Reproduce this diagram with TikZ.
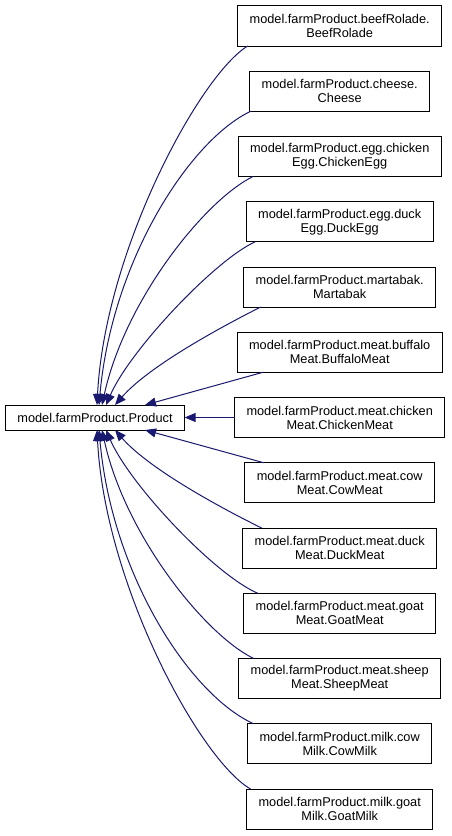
\documentclass[tikz,border=0pt]{standalone}
\usepackage{fontspec}
\setmainfont{Liberation Sans}
\usepackage{xcolor}
\usepackage{tikz}
\usetikzlibrary{arrows.meta}
\definecolor{bg}{HTML}{FFFFFF}
\definecolor{boxline}{HTML}{000000}
\definecolor{inhblue}{HTML}{191970}
\tikzset{
  cls/.style={draw=boxline, fill=bg, line width=1bp, align=center, minimum height=40bp,
    inner xsep=12bp, inner ysep=2bp, outer sep=0pt, font=\fontsize{12.8}{14}\selectfont},
  base/.style={cls, minimum height=25bp},
  inh/.style={draw=inhblue, line width=1bp, -{Triangle[length=11bp,width=9bp]}}
}
\begin{document}
\begin{tikzpicture}[x=1bp,y=-1bp]
  \useasboundingbox[fill=bg] (0,0) rectangle (452,836);
  % base class
  \node[base] (prod) at (95,417.5) {model.farmProduct.Product};
  % derived classes
  \node[cls] (beef)     at (339.7,26)     {model.farmProduct.beefRolade.\\BeefRolade};
  \node[cls] (cheese)   at (339.7,91.25)  {model.farmProduct.cheese.\\Cheese};
  \node[cls] (chkegg)   at (339.7,156.5)  {model.farmProduct.egg.chicken\\Egg.ChickenEgg};
  \node[cls] (dckegg)   at (339.7,221.75) {model.farmProduct.egg.duck\\Egg.DuckEgg};
  \node[cls] (martabak) at (339.7,287)    {model.farmProduct.martabak.\\Martabak};
  \node[cls] (bufmeat)  at (339.7,352.25) {model.farmProduct.meat.buffalo\\Meat.BuffaloMeat};
  \node[cls] (chkmeat)  at (339.7,417.5)  {model.farmProduct.meat.chicken\\Meat.ChickenMeat};
  \node[cls] (cowmeat)  at (339.7,482.75) {model.farmProduct.meat.cow\\Meat.CowMeat};
  \node[cls] (dckmeat)  at (339.7,548)    {model.farmProduct.meat.duck\\Meat.DuckMeat};
  \node[cls] (goatmeat) at (339.7,613.25) {model.farmProduct.meat.goat\\Meat.GoatMeat};
  \node[cls] (shpmeat)  at (339.7,678.5)  {model.farmProduct.meat.sheep\\Meat.SheepMeat};
  \node[cls] (cowmilk)  at (339.7,743.75) {model.farmProduct.milk.cow\\Milk.CowMilk};
  \node[cls] (goatmilk) at (339.7,809)    {model.farmProduct.milk.goat\\Milk.GoatMilk};
  % inheritance edges, upper half
  \draw[inh] ([xshift=10bp]beef.south west) .. controls (200,75) and (105,250) .. ([xshift=2bp]prod.north);
  \draw[inh] ([xshift=1bp]cheese.south west) .. controls (190,140) and (112,260) .. ([xshift=4bp]prod.north);
  \draw[inh] ([xshift=15bp]chkegg.south west) .. controls (205,200) and (125,300) .. ([xshift=7bp]prod.north);
  \draw[inh] ([xshift=9bp]dckegg.south west) .. controls (215,260) and (130,350) .. ([xshift=11bp]prod.north);
  \draw[inh] ([xshift=17bp]martabak.south west) .. controls (225,325) and (150,365) .. ([xshift=20bp]prod.north);
  \draw[inh] ([xshift=26bp]bufmeat.south west) -- ([xshift=50bp]prod.north);
  \draw[inh] (chkmeat.west) -- (prod.east);
  % inheritance edges, lower half
  \draw[inh] ([xshift=19bp]cowmeat.north west) -- ([xshift=50bp]prod.south);
  \draw[inh] ([xshift=19bp]dckmeat.north west) .. controls (225,510) and (150,470) .. ([xshift=20bp]prod.south);
  \draw[inh] ([xshift=14bp]goatmeat.north west) .. controls (215,575) and (130,485) .. ([xshift=11bp]prod.south);
  \draw[inh] ([xshift=15bp]shpmeat.north west) .. controls (205,635) and (125,535) .. ([xshift=7bp]prod.south);
  \draw[inh] ([xshift=6bp]cowmilk.north west) .. controls (190,695) and (112,575) .. ([xshift=4bp]prod.south);
  \draw[inh] ([xshift=4bp]goatmilk.north west) .. controls (200,760) and (105,585) .. ([xshift=2bp]prod.south);
\end{tikzpicture}
\end{document}
